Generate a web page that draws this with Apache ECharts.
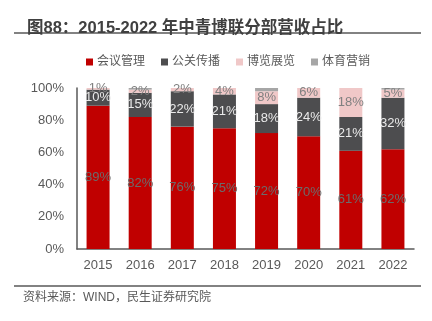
<!DOCTYPE html>
<html><head><meta charset="utf-8">
<script src="https://cdn.jsdelivr.net/npm/echarts@6/dist/echarts.min.js"></script>
<style>html,body{margin:0;padding:0;background:#fff}#c{width:432px;height:321px}</style>
</head><body><div id="c"></div>
<script>
var years = ['2015','2016','2017','2018','2019','2020','2021','2022'];
var meeting = [89, 82, 76, 75, 72, 70, 61, 62];
var pr = [10, 15, 22, 21, 18, 24, 21, 32];
var expo = [1, 2, 2, 4, 8, 6, 18, 5];
var sports = [0, 1, 0, 0, 2, 0, 0.5, 1];
var yTicks = ['0%','20%','40%','60%','80%','100%'];
var seriesNames = ['会议管理','公关传播','博览展览','体育营销'];

var FONT = "'Liberation Sans','Noto Sans CJK SC',sans-serif";
var chart = echarts.init(document.getElementById('c'));
function mk(name, data, color, labelColor, showLabel) {
  return {
    name: name, type: 'bar', stack: 'a', data: data, barWidth: 23,
    itemStyle: {color: color},
    label: {show: showLabel, position: 'inside', color: labelColor, fontSize: 13, fontFamily: FONT,
      formatter: function(p){ return p.value + '%'; }},
    emphasis: {disabled: true}
  };
}
chart.setOption({
  animation: false,
  textStyle: {fontFamily: FONT},
  title: {text: '图88：2015-2022 年中青博联分部营收占比', left: 22, top: 15,
    textStyle: {fontSize: 16.5, fontWeight: 'bold', color: '#404040', fontFamily: FONT}},
  legend: {top: 51, left: 81, itemWidth: 7, itemHeight: 7, itemGap: 16, icon: 'rect',
    textStyle: {fontSize: 12, color: '#595959', padding: [0,0,0,-1]}, data: seriesNames},
  grid: {left: 77, right: 18, top: 88, bottom: 72},
  xAxis: {type: 'category', data: years,
    axisLine: {lineStyle: {color: '#595959', width: 1.5}}, axisTick: {show: false},
    axisLabel: {fontSize: 13, color: '#595959', margin: 10}},
  yAxis: {type: 'value', min: 0, max: 100, interval: 20,
    axisLine: {show: true, lineStyle: {color: '#595959', width: 1.5}}, axisTick: {show: false},
    splitLine: {show: false},
    axisLabel: {fontSize: 13, color: '#595959', margin: 13, formatter: function(v){ return yTicks[v/20]; }}},
  graphic: [
    {type: 'line', shape: {x1: 14, y1: 33, x2: 421, y2: 33}, style: {stroke: '#595959', lineWidth: 1.5}},
    {type: 'line', shape: {x1: 14, y1: 286, x2: 421, y2: 286}, style: {stroke: '#595959', lineWidth: 1.5}},
    {type: 'text', left: 23, top: 292, style: {text: '资料来源：WIND，民生证券研究院', fontSize: 12, fill: '#595959', fontFamily: FONT}}
  ],
  series: [
    mk('会议管理', meeting, '#C00000', '#6b6b6b', true),
    mk('公关传播', pr, '#4D4D4F', '#EAEAEA', true),
    mk('博览展览', expo, '#F0C8C8', '#808080', true),
    mk('体育营销', sports, '#A6A6A6', '#808080', false)
  ]
});
</script></body></html>
